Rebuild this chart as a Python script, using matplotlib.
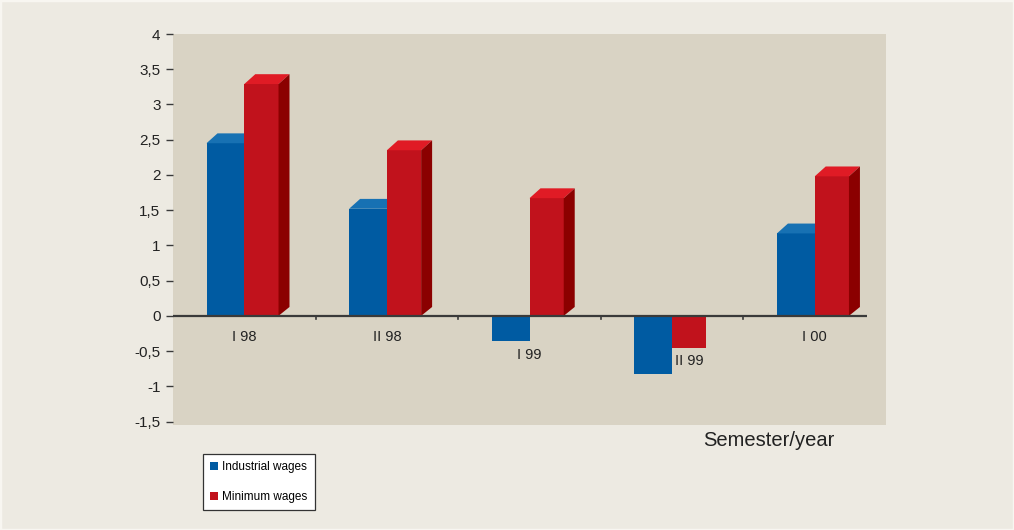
import matplotlib.pyplot as plt
from matplotlib.patches import Polygon, Rectangle

plt.rcParams['font.family'] = ['Liberation Sans', 'DejaVu Sans']

# Semester-on-semester change, per cent
semesters = ['I 98', 'II 98', 'I 99', 'II 99', 'I 00']
industrial = [2.45, 1.52, -0.35, -0.82, 1.17]
minimum = [3.29, 2.35, 1.67, -0.45, 1.98]
y_ticks = [-1.5, -1, -0.5, 0, 0.5, 1, 1.5, 2, 2.5, 3, 3.5, 4]

# where each category label sits (x, y in data units)
label_pos = [(0, -0.30), (1, -0.30), (2, -0.56), (3.12, -0.64), (4, -0.30)]

blue = '#005BA2'
blue_top = '#1771B3'
red = '#C1121C'
red_top = '#E01B25'
red_side = '#8B0000'

fig = plt.figure(figsize=(10.14, 5.30), dpi=100)
fig.patch.set_facecolor('#EDEAE2')
fig.patches.append(Rectangle((0, 0), 1, 1, transform=fig.transFigure,
                             facecolor='none', edgecolor='#F8F6F1', lw=2.5))

ax = fig.add_axes([0.1706, 0.198, 0.7032, 0.7378])
ax.set_facecolor('#D9D3C4')
ax.set_xlim(-0.5, 4.5)
ax.set_ylim(-1.55, 4)

w_blue = 0.265
w_red = 0.24
dx, dy = 0.077, 0.14


def bar3d(x0, width, v, front, top, side):
    ax.bar(x0, v, width, align='edge', color=front, zorder=3)
    if v <= 0:
        return
    x1 = x0 + width
    ax.add_patch(Polygon([(x0, v), (x1, v), (x1 + dx, v + dy), (x0 + dx, v + dy)],
                         closed=True, facecolor=top, edgecolor='none', zorder=3))
    if side is not None:
        ax.add_patch(Polygon([(x1, 0), (x1 + dx, dy * 0.9), (x1 + dx, v + dy), (x1, v)],
                             closed=True, facecolor=side, edgecolor='none', zorder=3))


for i, (b, r) in enumerate(zip(industrial, minimum)):
    bar3d(i - w_blue, w_blue, b, blue, blue_top, None)
    bar3d(i, w_red, r, red, red_top, red_side)

# zero line with group separators
ax.plot([-0.5, 4.37], [0, 0], color='#3A3A3A', lw=1.6, zorder=4, solid_capstyle='butt')
for xb in [0.5, 1.5, 2.5, 3.5]:
    ax.plot([xb, xb], [0, -0.05], color='#3A3A3A', lw=1.2, zorder=4)

for name, (lx, ly) in zip(semesters, label_pos):
    ax.text(lx, ly, name, ha='center', va='center', fontsize=10.5, color='#222222', zorder=5)

ax.set_xticks([])
ax.set_yticks(y_ticks)
ax.set_yticklabels([f'{t:g}'.replace('.', ',') for t in y_ticks], fontsize=11, color='#222222')
ax.tick_params(axis='y', length=5, width=1, color='#3A3A3A', pad=4)
for s in ax.spines.values():
    s.set_visible(False)

fig.text(703 / 1014, 1 - 440 / 530, 'Semester/year', fontsize=14.5, color='#222222',
         ha='left', va='center')

h1 = Rectangle((0, 0), 1, 1, facecolor=blue)
h2 = Rectangle((0, 0), 1, 1, facecolor=red)
leg = fig.legend([h1, h2], ['Industrial wages', 'Minimum wages'], loc='upper left',
                 bbox_to_anchor=(203 / 1014, 1 - 454 / 530), borderaxespad=0,
                 fontsize=8.5, handlelength=0.7, handleheight=0.7, handletextpad=0.35,
                 labelspacing=1.55, borderpad=0.6, fancybox=False, framealpha=1)
leg.get_frame().set_edgecolor('#333333')
leg.get_frame().set_linewidth(0.9)

fig.savefig('out.png', dpi=100, facecolor=fig.get_facecolor())
